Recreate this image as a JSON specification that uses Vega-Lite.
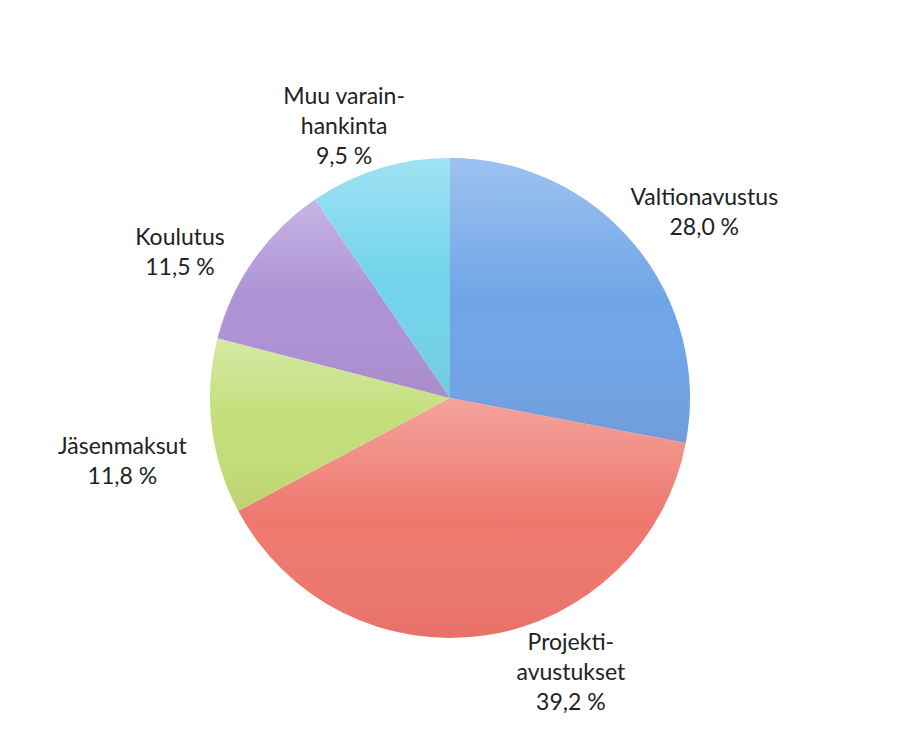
{
  "$schema": "https://vega.github.io/schema/vega-lite/v6.json",
  "width": 924,
  "height": 729,
  "autosize": {"type": "fit", "contains": "padding"},
  "padding": {"left": 0, "right": 24, "top": 71, "bottom": 0},
  "background": "#ffffff",
  "config": {"view": {"stroke": null}},
  "data": {
    "values": [
      {"i": 1, "name": "Valtionavustus", "value": 28.0, "label": "Valtionavustus\n28,0 %"},
      {"i": 2, "name": "Projektiavustukset", "value": 39.2, "label": "Projekti-\navustukset\n39,2 %"},
      {"i": 3, "name": "Jäsenmaksut", "value": 11.8, "label": "Jäsenmaksut\n11,8 %"},
      {"i": 4, "name": "Koulutus", "value": 11.5, "label": "Koulutus\n11,5 %"},
      {"i": 5, "name": "Muu varainhankinta", "value": 9.5, "label": "Muu varain-\nhankinta\n9,5 %"}
    ]
  },
  "encoding": {
    "theta": {"field": "value", "type": "quantitative", "stack": true},
    "order": {"field": "i", "type": "quantitative"}
  },
  "layer": [
    {
      "mark": {"type": "arc", "outerRadius": 240},
      "encoding": {
        "color": {
          "field": "name",
          "type": "nominal",
          "legend": null,
          "scale": {
            "domain": ["Valtionavustus", "Projektiavustukset", "Jäsenmaksut", "Koulutus", "Muu varainhankinta"],
            "range": ["#6fa5e8", "#ee786e", "#c2de78", "#ad92d6", "#72d4ec"]
          }
        }
      }
    },
    {
      "mark": {
        "type": "arc",
        "outerRadius": 240,
        "color": {
          "gradient": "linear",
          "x1": 0, "y1": 0, "x2": 0, "y2": 1,
          "stops": [
            {"offset": 0, "color": "rgba(255,255,255,0.32)"},
            {"offset": 0.5, "color": "rgba(255,255,255,0)"},
            {"offset": 1, "color": "rgba(120,0,0,0.06)"}
          ]
        }
      },
      "encoding": {"detail": {"field": "name", "type": "nominal"}}
    },
    {
      "mark": {
        "type": "text", "radius": 330, "dy": 10,
        "font": "Lato", "fontSize": 23, "lineHeight": 30, "lineBreak": "\n",
        "color": "#222222", "align": "center", "baseline": "middle"
      },
      "encoding": {
        "detail": {"field": "name", "type": "nominal"},
        "text": {"condition": {"test": "datum.i === 1 || datum.i === 3", "field": "label"}, "value": ""}
      }
    },
    {
      "mark": {
        "type": "text", "radius": 330, "dy": 30,
        "font": "Lato", "fontSize": 23, "lineHeight": 30, "lineBreak": "\n",
        "color": "#222222", "align": "center", "baseline": "middle"
      },
      "encoding": {
        "detail": {"field": "name", "type": "nominal"},
        "text": {"condition": {"test": "datum.i === 4", "field": "label"}, "value": ""}
      }
    },
    {
      "mark": {
        "type": "text", "radius": 272, "dx": 80, "dy": -24,
        "font": "Lato", "fontSize": 23, "lineHeight": 30, "lineBreak": "\n",
        "color": "#222222", "align": "center", "baseline": "middle"
      },
      "encoding": {
        "detail": {"field": "name", "type": "nominal"},
        "text": {"condition": {"test": "datum.i === 2", "field": "label"}, "value": ""}
      }
    },
    {
      "mark": {
        "type": "text", "radius": 292, "dx": -20, "dy": -22,
        "font": "Lato", "fontSize": 23, "lineHeight": 30, "lineBreak": "\n",
        "color": "#222222", "align": "center", "baseline": "middle"
      },
      "encoding": {
        "detail": {"field": "name", "type": "nominal"},
        "text": {"condition": {"test": "datum.i === 5", "field": "label"}, "value": ""}
      }
    }
  ]
}
